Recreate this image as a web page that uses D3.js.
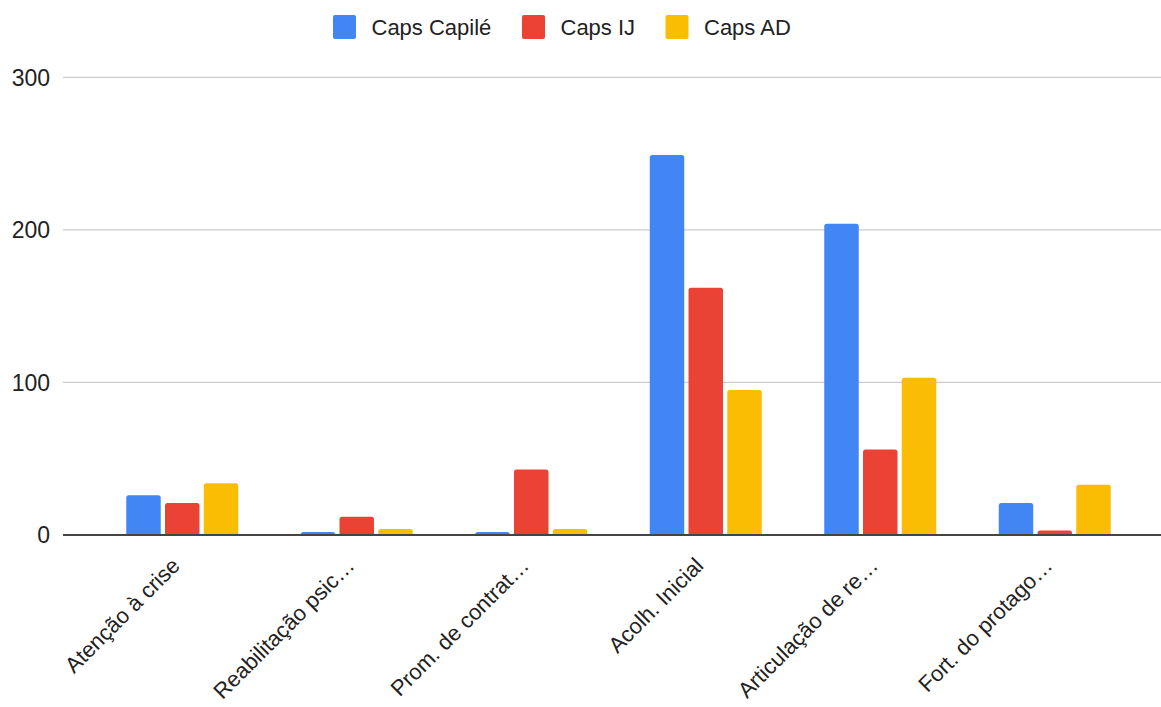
<!DOCTYPE html>
<html>
<head>
<meta charset="utf-8">
<script src="https://cdn.jsdelivr.net/npm/d3@7"></script>
<style>
  html, body { margin: 0; padding: 0; background: #fff; }
  svg { display: block; font-family: "Liberation Sans", Arial, sans-serif; }
</style>
</head>
<body>
<svg id="chart" width="1161" height="707"></svg>
<script>
// Activity categories (x axis)
const categories = [
  "Atenção à crise",
  "Reabilitação psic…",
  "Prom. de contrat…",
  "Acolh. Inicial",
  "Articulação de re…",
  "Fort. do protago…"
];

// Series names and values per category
const seriesNames = ["Caps Capilé", "Caps IJ", "Caps AD"];
const capsCapile = [26, 2, 2, 249, 204, 21];
const capsIJ     = [21, 12, 43, 162, 56, 3];
const capsAD     = [34, 4, 4, 95, 103, 33];
const seriesColors = ["#4285F4", "#EA4335", "#FBBC04"];

// Y axis ticks
const yTicks = [0, 100, 200, 300];

const seriesValues = [capsCapile, capsIJ, capsAD];
const rows = categories.map((c, i) => ({
  category: c,
  values: seriesNames.map((s, k) => ({ series: s, value: seriesValues[k][i], color: seriesColors[k] }))
}));

const svg = d3.select("#chart");
const gridLeft = 63, gridRight = 1161;
const plotTop = 77.3, plotBottom = 535;

const y = d3.scaleLinear().domain([0, 300]).range([plotBottom, plotTop]);
const x0 = d3.scaleBand().domain(categories).range([95, 1142]).paddingInner(0).paddingOuter(0);
const x1 = d3.scaleBand().domain(seriesNames)
  .range([x0.bandwidth() / 2 - 56, x0.bandwidth() / 2 + 56])
  .paddingInner(0.11).paddingOuter(0);

// Horizontal gridlines
svg.append("g")
  .selectAll("line")
  .data(yTicks.filter(t => t !== 0))
  .join("line")
  .attr("x1", gridLeft).attr("x2", gridRight)
  .attr("y1", d => y(d)).attr("y2", d => y(d))
  .attr("stroke", "#cccccc").attr("stroke-width", 1.3);

// Y tick labels
svg.append("g")
  .selectAll("text")
  .data(yTicks)
  .join("text")
  .attr("x", 50).attr("y", d => y(d))
  .attr("dy", "0.36em")
  .attr("text-anchor", "end")
  .attr("font-size", 23)
  .attr("fill", "#222")
  .text(d => d);

// Rounded-top bar path
function barPath(x, yTop, w, h, r) {
  r = Math.min(r, h, w / 2);
  return `M${x},${yTop + h}V${yTop + r}Q${x},${yTop} ${x + r},${yTop}` +
         `H${x + w - r}Q${x + w},${yTop} ${x + w},${yTop + r}V${yTop + h}Z`;
}

// Bars
const groups = svg.append("g")
  .selectAll("g")
  .data(rows)
  .join("g")
  .attr("transform", d => `translate(${x0(d.category)},0)`);

groups.selectAll("path")
  .data(d => d.values)
  .join("path")
  .attr("d", d => barPath(x1(d.series), y(d.value), x1.bandwidth(), y(0) - y(d.value), 2.5))
  .attr("fill", d => d.color);

// Baseline
svg.append("line")
  .attr("x1", gridLeft).attr("x2", gridRight)
  .attr("y1", y(0)).attr("y2", y(0))
  .attr("stroke", "#444").attr("stroke-width", 2);

// Rotated category labels
svg.append("g")
  .selectAll("text")
  .data(categories)
  .join("text")
  .attr("transform", d => `translate(${x0(d) + x0.bandwidth() / 2 - 1},567) rotate(-45)`)
  .attr("text-anchor", "end")
  .attr("font-size", 22)
  .attr("fill", "#222")
  .text(d => d);

// Legend
const legendX = [333, 522, 665.5];
const legend = svg.append("g")
  .selectAll("g")
  .data(seriesNames)
  .join("g")
  .attr("transform", (d, i) => `translate(${legendX[i]},15)`);

legend.append("rect")
  .attr("width", 23).attr("height", 24).attr("rx", 2)
  .attr("fill", (d, i) => seriesColors[i]);

legend.append("text")
  .attr("x", 38.5).attr("y", 12)
  .attr("dy", "0.36em")
  .attr("font-size", 22)
  .attr("fill", "#222")
  .text(d => d);
</script>
</body>
</html>
